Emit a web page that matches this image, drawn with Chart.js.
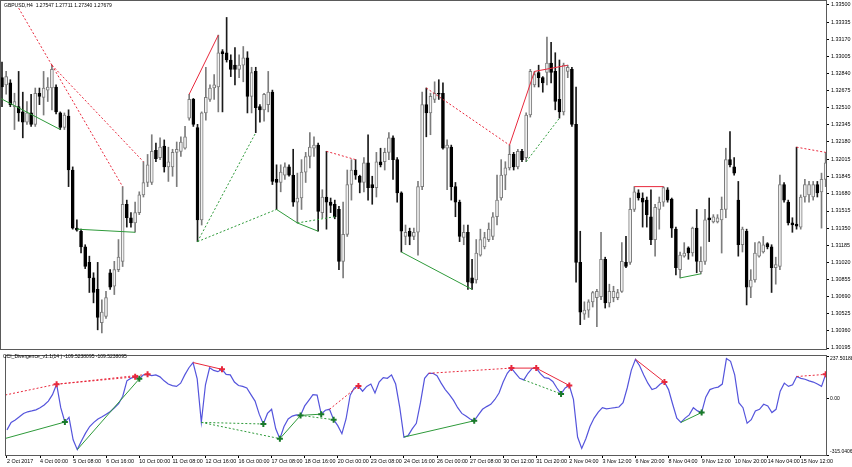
<!DOCTYPE html>
<html>
<head>
<meta charset="utf-8">
<script src="https://cdn.jsdelivr.net/npm/chart.js@4.4.1/dist/chart.umd.min.js"></script>
<style>
  body { margin: 0; background: #fff; }
  #wrap { position: relative; width: 852px; height: 467px; overflow: hidden; background: #fff; }
  canvas { position: absolute; left: 0; }
  #priceChart { top: 0; }
  #cciChart { top: 350px; }
  .caption { position: absolute; font-family: 'Liberation Sans', Arial, sans-serif; font-size: 5px; color: #000; white-space: pre; line-height: 1; }
</style>
</head>
<body>
<div id="wrap">
  <canvas id="priceChart" width="852" height="350"></canvas>
  <canvas id="cciChart" width="852" height="117"></canvas>
  <div class="caption" style="left:4px;top:3px">GBPUSD,H4  1.27547 1.27711 1.27340 1.27679</div>
  <div class="caption" style="left:3px;top:354px">CCI_Divergence_v1.1(14 ) -109.5238095 -109.5238095</div>
</div>
<script>
// time labels, one every 8 H4 bars
const xTickLabels = ['2 Oct 2017', '4 Oct 00:00', '5 Oct 08:00', '6 Oct 16:00', '10 Oct 00:00', '11 Oct 08:00',
  '12 Oct 16:00', '16 Oct 00:00', '17 Oct 08:00', '18 Oct 16:00', '20 Oct 00:00', '23 Oct 08:00', '24 Oct 16:00',
  '26 Oct 00:00', '27 Oct 08:00', '30 Oct 12:00', '31 Oct 20:00', '2 Nov 04:00', '3 Nov 12:00', '6 Nov 20:00',
  '8 Nov 04:00', '9 Nov 12:00', '10 Nov 20:00', '14 Nov 04:00', '15 Nov 12:00'];

const priceTickLabels = ['1.33500', '1.33335', '1.33170', '1.33005', '1.32840', '1.32675', '1.32510', '1.32345',
  '1.32180', '1.32015', '1.31845', '1.31680', '1.31515', '1.31350', '1.31185', '1.31020', '1.30855', '1.30690',
  '1.30525', '1.30360', '1.30195'];

const cciTickLabels = ['237.50188', '0.00', '-315.0406'];

const opens = [
  1.3280, 1.3273, 1.3275, 1.3252, 1.3252, 1.3247, 1.3237, 1.3246, 1.3235, 1.3265,
  1.3261, 1.3268, 1.3270, 1.3271, 1.3246, 1.3232, 1.3243, 1.3191, 1.3135, 1.3132,
  1.3117, 1.3102, 1.3087, 1.3076, 1.3044, 1.3050, 1.3092, 1.3079, 1.3095, 1.3103,
  1.3158, 1.3145, 1.3140, 1.3150, 1.3167, 1.3179, 1.3179, 1.3210, 1.3203, 1.3214,
  1.3194, 1.3194, 1.3208, 1.3209, 1.3212, 1.3241, 1.3259, 1.3232, 1.3143, 1.3246,
  1.3259, 1.3270, 1.3271, 1.3305, 1.3304, 1.3297, 1.3292, 1.3288, 1.3292, 1.3299,
  1.3262, 1.3286, 1.3252, 1.3249, 1.3254, 1.3266, 1.3182, 1.3179, 1.3186, 1.3194,
  1.3186, 1.3160, 1.3164, 1.3189, 1.3204, 1.3212, 1.3215, 1.3150, 1.3165, 1.3160,
  1.3158, 1.3153, 1.3103, 1.3129, 1.3177, 1.3191, 1.3185, 1.3179, 1.3198, 1.3177,
  1.3174, 1.3199, 1.3199, 1.3208, 1.3222, 1.3201, 1.3169, 1.3127, 1.3132, 1.3127,
  1.3131, 1.3175, 1.3254, 1.3246, 1.3259, 1.3265, 1.3265, 1.3212, 1.3213, 1.3175,
  1.3160, 1.3126, 1.3131, 1.3087, 1.3085, 1.3109, 1.3117, 1.3124, 1.3127, 1.3146,
  1.3164, 1.3186, 1.3193, 1.3206, 1.3194, 1.3209, 1.3203, 1.3244, 1.3273, 1.3285,
  1.3280, 1.3285, 1.3294, 1.3286, 1.3259, 1.3247, 1.3286, 1.3288, 1.3235, 1.3102,
  1.3052, 1.3056, 1.3064, 1.3068, 1.3069, 1.3105, 1.3063, 1.3068, 1.3068, 1.3074,
  1.3102, 1.3102, 1.3153, 1.3169, 1.3164, 1.3162, 1.3146, 1.3124, 1.3153, 1.3160,
  1.3172, 1.3163, 1.3134, 1.3095, 1.3108, 1.3116, 1.3111, 1.3135, 1.3093, 1.3103,
  1.3145, 1.3141, 1.3141, 1.3143, 1.3153, 1.3201, 1.3194, 1.3162, 1.3119, 1.3132,
  1.3078, 1.3085, 1.3108, 1.3112, 1.3120, 1.3117, 1.3097, 1.3098, 1.3177, 1.3160,
  1.3140, 1.3139, 1.3136, 1.3165, 1.3167, 1.3165, 1.3177, 1.3170, 1.3182];

const highs = [
  1.3295, 1.3286, 1.3278, 1.3265, 1.3286, 1.3266, 1.3257, 1.3264, 1.3270, 1.3270,
  1.3286, 1.3280, 1.3292, 1.3273, 1.3247, 1.3246, 1.3249, 1.3194, 1.3143, 1.3134,
  1.3119, 1.3108, 1.3092, 1.3102, 1.3066, 1.3074, 1.3095, 1.3103, 1.3124, 1.3175,
  1.3162, 1.3150, 1.3160, 1.3170, 1.3199, 1.3206, 1.3225, 1.3217, 1.3222, 1.3220,
  1.3213, 1.3211, 1.3218, 1.3223, 1.3233, 1.3264, 1.3260, 1.3235, 1.3247, 1.3290,
  1.3273, 1.3283, 1.3321, 1.3307, 1.3338, 1.3302, 1.3309, 1.3302, 1.3310, 1.3305,
  1.3290, 1.3290, 1.3254, 1.3265, 1.3286, 1.3268, 1.3196, 1.3196, 1.3198, 1.3196,
  1.3211, 1.3188, 1.3201, 1.3208, 1.3227, 1.3223, 1.3217, 1.3172, 1.3209, 1.3164,
  1.3162, 1.3156, 1.3160, 1.3191, 1.3201, 1.3201, 1.3186, 1.3203, 1.3225, 1.3185,
  1.3208, 1.3212, 1.3212, 1.3227, 1.3224, 1.3203, 1.3170, 1.3138, 1.3135, 1.3135,
  1.3180, 1.3266, 1.3270, 1.3265, 1.3276, 1.3278, 1.3275, 1.3220, 1.3215, 1.3179,
  1.3162, 1.3138, 1.3138, 1.3105, 1.3124, 1.3134, 1.3131, 1.3140, 1.3150, 1.3186,
  1.3201, 1.3199, 1.3215, 1.3208, 1.3211, 1.3211, 1.3246, 1.3288, 1.3286, 1.3292,
  1.3281, 1.3319, 1.3314, 1.3304, 1.3297, 1.3294, 1.3292, 1.3290, 1.3271, 1.3132,
  1.3064, 1.3066, 1.3074, 1.3076, 1.3131, 1.3107, 1.3081, 1.3079, 1.3076, 1.3121,
  1.3127, 1.3164, 1.3175, 1.3172, 1.3169, 1.3165, 1.3172, 1.3158, 1.3165, 1.3175,
  1.3174, 1.3164, 1.3136, 1.3112, 1.3121, 1.3117, 1.3136, 1.3153, 1.3117, 1.3153,
  1.3164, 1.3148, 1.3148, 1.3165, 1.3212, 1.3228, 1.3203, 1.3180, 1.3136, 1.3134,
  1.3095, 1.3121, 1.3122, 1.3127, 1.3121, 1.3119, 1.3107, 1.3186, 1.3179, 1.3162,
  1.3145, 1.3213, 1.3167, 1.3182, 1.3180, 1.3180, 1.3180, 1.3188, 1.3208];

const lows = [
  1.3252, 1.3264, 1.3252, 1.3230, 1.3238, 1.3222, 1.3235, 1.3233, 1.3233, 1.3254,
  1.3244, 1.3257, 1.3249, 1.3245, 1.3230, 1.3230, 1.3175, 1.3134, 1.3132, 1.3111,
  1.3096, 1.3073, 1.3063, 1.3037, 1.3034, 1.3048, 1.3076, 1.3071, 1.3093, 1.3098,
  1.3136, 1.3136, 1.3131, 1.3148, 1.3165, 1.3175, 1.3177, 1.3199, 1.3201, 1.3189,
  1.3180, 1.3185, 1.3175, 1.3204, 1.3211, 1.3239, 1.3233, 1.3122, 1.3138, 1.3239,
  1.3257, 1.3259, 1.3247, 1.3247, 1.3295, 1.3281, 1.3273, 1.3280, 1.3276, 1.3246,
  1.3246, 1.3227, 1.3237, 1.3238, 1.3247, 1.3177, 1.3153, 1.3170, 1.3182, 1.3185,
  1.3156, 1.3140, 1.3153, 1.3179, 1.3193, 1.3204, 1.3132, 1.3145, 1.3134, 1.3150,
  1.3144, 1.3095, 1.3087, 1.3127, 1.3162, 1.3182, 1.3169, 1.3170, 1.3162, 1.3158,
  1.3165, 1.3194, 1.3191, 1.3201, 1.3182, 1.3160, 1.3112, 1.3119, 1.3119, 1.3124,
  1.3109, 1.3172, 1.3223, 1.3225, 1.3256, 1.3259, 1.3211, 1.3172, 1.3162, 1.3146,
  1.3122, 1.3119, 1.3076, 1.3076, 1.3082, 1.3108, 1.3115, 1.3122, 1.3124, 1.3138,
  1.3162, 1.3172, 1.3191, 1.3191, 1.3192, 1.3199, 1.3199, 1.3242, 1.3271, 1.3271,
  1.3266, 1.3273, 1.3275, 1.3249, 1.3241, 1.3244, 1.3280, 1.3233, 1.3083, 1.3042,
  1.3047, 1.3049, 1.3059, 1.3040, 1.3066, 1.3058, 1.3059, 1.3064, 1.3066, 1.3073,
  1.3097, 1.3100, 1.3151, 1.3162, 1.3136, 1.3136, 1.3119, 1.3108, 1.3134, 1.3156,
  1.3160, 1.3126, 1.3090, 1.3087, 1.3107, 1.3105, 1.3108, 1.3092, 1.3091, 1.3100,
  1.3122, 1.3140, 1.3140, 1.3111, 1.3145, 1.3194, 1.3186, 1.3108, 1.3112, 1.3061,
  1.3068, 1.3083, 1.3107, 1.3111, 1.3115, 1.3073, 1.3081, 1.3095, 1.3160, 1.3138,
  1.3131, 1.3134, 1.3134, 1.3160, 1.3160, 1.3162, 1.3165, 1.3135, 1.3175];

const closes = [
  1.3271, 1.3281, 1.3254, 1.3257, 1.3246, 1.3237, 1.3246, 1.3235, 1.3265, 1.3262,
  1.3270, 1.3271, 1.3288, 1.3247, 1.3232, 1.3244, 1.3191, 1.3135, 1.3133, 1.3117,
  1.3098, 1.3087, 1.3073, 1.3049, 1.3054, 1.3068, 1.3078, 1.3095, 1.3107, 1.3158,
  1.3145, 1.3140, 1.3150, 1.3167, 1.3179, 1.3196, 1.3209, 1.3202, 1.3213, 1.3194,
  1.3199, 1.3208, 1.3211, 1.3218, 1.3223, 1.3259, 1.3235, 1.3143, 1.3246, 1.3261,
  1.3270, 1.3273, 1.3304, 1.3303, 1.3297, 1.3288, 1.3288, 1.3292, 1.3299, 1.3262,
  1.3285, 1.3251, 1.3249, 1.3264, 1.3266, 1.3180, 1.3179, 1.3189, 1.3194, 1.3186,
  1.3160, 1.3164, 1.3189, 1.3204, 1.3213, 1.3215, 1.3151, 1.3165, 1.3160, 1.3157,
  1.3146, 1.3103, 1.3129, 1.3177, 1.3191, 1.3186, 1.3179, 1.3198, 1.3174, 1.3174,
  1.3199, 1.3196, 1.3208, 1.3222, 1.3201, 1.3169, 1.3132, 1.3131, 1.3127, 1.3131,
  1.3175, 1.3254, 1.3246, 1.3262, 1.3265, 1.3264, 1.3212, 1.3215, 1.3175, 1.3160,
  1.3127, 1.3131, 1.3083, 1.3082, 1.3111, 1.3124, 1.3126, 1.3134, 1.3146, 1.3162,
  1.3186, 1.3193, 1.3206, 1.3194, 1.3209, 1.3201, 1.3244, 1.3286, 1.3283, 1.3280,
  1.3275, 1.3294, 1.3285, 1.3257, 1.3247, 1.3292, 1.3290, 1.3235, 1.3102, 1.3054,
  1.3056, 1.3064, 1.3073, 1.3074, 1.3105, 1.3063, 1.3074, 1.3074, 1.3073, 1.3103,
  1.3098, 1.3153, 1.3170, 1.3164, 1.3160, 1.3148, 1.3124, 1.3155, 1.3160, 1.3174,
  1.3162, 1.3135, 1.3097, 1.3109, 1.3111, 1.3111, 1.3135, 1.3103, 1.3103, 1.3143,
  1.3143, 1.3146, 1.3145, 1.3153, 1.3201, 1.3196, 1.3188, 1.3119, 1.3134, 1.3078,
  1.3085, 1.3111, 1.3121, 1.3119, 1.3117, 1.3097, 1.3100, 1.3177, 1.3162, 1.3140,
  1.3138, 1.3137, 1.3165, 1.3177, 1.3177, 1.3177, 1.3169, 1.3182, 1.3198];

const cci = [
  -175, -133, -120, -102, -83, -74, -69, -63, -51, -36,
  -14, 22, 80, -51, -131, -105, -230, -285, -237, -193,
  -156, -133, -114, -102, -87, -72, -51, -29, 13, 99,
  114, 121, 110, 132, 135, 128, 132, 121, 99, 81,
  72, 68, 86, 132, 172, 201, 110, -133, 77, 172,
  157, 150, 163, 135, 132, 92, 73, 68, 59, 22,
  -14, -87, -142, -83, -60, -169, -224, -156, -114, -98,
  -91, -94, -41, -10, 22, 19, -87, -65, -60, -118,
  -151, -196, -114, 19, 59, 70, 41, 68, 81, 31,
  92, 117, 113, 132, 81, -51, -215, -207, -169, -138,
  -23, 113, 141, 141, 128, 86, 50, 22, -10, -51,
  -83, -98, -114, -124, -91, -60, -45, -32, -5, 31,
  92, 141, 170, 141, 113, 104, 141, 168, 170, 139,
  117, 113, 95, 59, 26, 59, 73, -5, -215, -278,
  -224, -156, -109, -76, -51, -58, -54, -51, -47, -23,
  59, 159, 219, 183, 132, 86, 50, 59, 81, 92,
  50, -32, -109, -133, -109, -91, -51, -69, -78, 8,
  50, 59, 64, 81, 223, 208, 132, -23, -51, -138,
  -118, -69, -60, -32, -41, -78, -60, 41, 86, 68,
  77, 123, 113, 108, 99, 92, 81, 68, 135];

// divergence lines: [fromBar, fromValue, toBar, toValue]
const priceBearRegular = [[45, 1.3264, 52, 1.3321], [122, 1.3215, 128, 1.3286], [128, 1.3286, 136, 1.3292], [152, 1.3175, 159, 1.3175]];
const priceBearHidden = [[4, 1.3347, 12, 1.3292], [12, 1.3292, 29, 1.3175], [12, 1.3292, 34, 1.3199], [78, 1.3209, 85, 1.3201], [102, 1.3270, 122, 1.3215], [191, 1.3213, 198, 1.3208]];
const priceBullRegular = [[-8, 1.3276, 14, 1.3230], [18, 1.3134, 32, 1.3131], [66, 1.3153, 71, 1.3140], [71, 1.3140, 76, 1.3132], [96, 1.3112, 113, 1.3076], [163, 1.3087, 168, 1.3091]];
const priceBullHidden = [[47, 1.3122, 61, 1.3227], [47, 1.3122, 66, 1.3153], [71, 1.3140, 80, 1.3146], [126, 1.3199, 134, 1.3241]];

const cciBearRegular = [[45, 201, 52, 163], [122, 170, 128, 170], [128, 170, 136, 73], [152, 219, 159, 92]];
const cciBearHidden = [[-8, -17, 12, 80], [12, 80, 31, 121], [12, 80, 34, 135], [78, -60, 85, 70], [102, 141, 122, 170], [191, 123, 198, 135]];
const cciBullRegular = [[-8, -271, 14, -131], [17, -285, 32, 110], [66, -224, 71, -94], [71, -94, 76, -87], [96, -215, 113, -124], [163, -133, 168, -78]];
const cciBullHidden = [[47, -133, 62, -142], [47, -133, 66, -224], [71, -94, 79, -118], [125, 104, 134, 26]];

const cciBearMarks = [12, 31, 34, 52, 85, 122, 128, 136, 159, 198];
const cciBullMarks = [14, 32, 62, 66, 71, 76, 79, 113, 134, 168];

const BARS_PER_LABEL = 8;
const X_MIN = -0.24, X_MAX = 198.08;
const PRICE_MIN = 1.301854, PRICE_MAX = 1.335385;
const CCI_MIN = -315.0406, CCI_MAX = 237.50188;

const RED = '#e8283c';
const GREEN = '#2e9a3a';
const axisFont = { family: "'Liberation Sans', Arial, sans-serif", size: 5.4 };

const frame = {
    id: 'frame',
    afterDraw(chart) {
        const { ctx, chartArea: a } = chart;
        ctx.save();
        ctx.strokeStyle = '#5a5a5a';
        ctx.lineWidth = 1;
        ctx.strokeRect(a.left - 0.5, a.top - 0.5, a.right - a.left + 1, a.bottom - a.top + 1);
        ctx.restore();
    }
};

function segments(list, color, dashed) {
    return list.map(([b1, v1, b2, v2]) => ({
        type: 'line',
        data: [{ x: b1, y: v1 }, { x: b2, y: v2 }],
        borderColor: color,
        borderWidth: 1,
        borderDash: dashed ? [2, 2] : [],
        pointRadius: 0,
        order: 1
    }));
}

const barIdx = opens.map((_, i) => i);
const rising = barIdx.map(i => closes[i] >= opens[i]);

new Chart(document.getElementById('priceChart'), {
    type: 'bar',
    data: {
        datasets: [
            ...segments(priceBearRegular, RED, false),
            ...segments(priceBearHidden, RED, true),
            ...segments(priceBullRegular, GREEN, false),
            ...segments(priceBullHidden, GREEN, true),
            {
                type: 'bar',
                data: barIdx.map(i => ({ x: i, y: [opens[i], closes[i]] })),
                backgroundColor: rising.map(r => r ? '#f2f2f2' : '#000000'),
                borderColor: rising.map(r => r ? '#7c7c7c' : '#000000'),
                borderWidth: 1,
                borderSkipped: false,
                barThickness: 3,
                minBarLength: 1,
                grouped: false,
                order: 2
            },
            {
                type: 'bar',
                data: barIdx.map(i => ({ x: i, y: [lows[i], highs[i]] })),
                backgroundColor: rising.map(r => r ? '#7c7c7c' : '#1a1a1a'),
                borderWidth: 0,
                barThickness: 1,
                grouped: false,
                order: 3
            }
        ]
    },
    options: {
        responsive: false,
        animation: false,
        events: [],
        layout: { padding: { left: 1, top: 1, right: 0, bottom: 1 } },
        plugins: { legend: { display: false }, tooltip: { enabled: false } },
        scales: {
            x: { type: 'linear', display: false, min: X_MIN, max: X_MAX, offset: false },
            y: {
                position: 'right',
                min: PRICE_MIN,
                max: PRICE_MAX,
                afterBuildTicks: s => { s.ticks = priceTickLabels.map(t => ({ value: parseFloat(t) })); },
                afterFit: s => { s.width = 26; s.paddingTop = 0; s.paddingBottom = 0; },
                ticks: { callback: (v, i) => priceTickLabels[i], font: axisFont, color: '#000', padding: 2, autoSkip: false },
                grid: { drawOnChartArea: false, drawTicks: true, tickLength: 3, color: '#000' },
                border: { display: false }
            }
        }
    },
    plugins: [frame]
});

const lastTick = cciTickLabels.length - 1;

new Chart(document.getElementById('cciChart'), {
    type: 'line',
    data: {
        datasets: [
            {
                data: cciBearMarks.map(i => ({ x: i, y: cci[i] })),
                showLine: false,
                pointStyle: 'cross',
                pointRadius: 3,
                pointBorderWidth: 2,
                pointBorderColor: RED,
                order: 0
            },
            {
                data: cciBullMarks.map(i => ({ x: i, y: cci[i] })),
                showLine: false,
                pointStyle: 'cross',
                pointRadius: 3,
                pointBorderWidth: 2,
                pointBorderColor: '#1a7a2a',
                order: 0
            },
            ...segments(cciBearRegular, RED, false),
            ...segments(cciBearHidden, RED, true),
            ...segments(cciBullRegular, GREEN, false),
            ...segments(cciBullHidden, GREEN, true),
            {
                data: cci.map((v, i) => ({ x: i, y: v })),
                borderColor: '#5454dc',
                borderWidth: 1.2,
                pointRadius: 0,
                tension: 0,
                order: 2
            }
        ]
    },
    options: {
        responsive: false,
        animation: false,
        events: [],
        layout: { padding: { left: 1, top: 2, right: 0, bottom: 0 } },
        plugins: { legend: { display: false }, tooltip: { enabled: false } },
        scales: {
            x: {
                type: 'linear',
                min: X_MIN,
                max: X_MAX,
                offset: false,
                afterBuildTicks: s => { s.ticks = xTickLabels.map((_, k) => ({ value: k * BARS_PER_LABEL })); },
                afterFit: s => { s.height = 12; s.paddingLeft = 0; s.paddingRight = 0; },
                ticks: { callback: (v, i) => xTickLabels[i], font: axisFont, color: '#000', align: 'start', autoSkip: false, maxRotation: 0, padding: 0 },
                grid: { drawOnChartArea: false, drawTicks: true, tickLength: 3, color: '#000' },
                border: { display: false }
            },
            y: {
                position: 'right',
                min: CCI_MIN,
                max: CCI_MAX,
                afterBuildTicks: s => { s.ticks = cciTickLabels.map(t => ({ value: parseFloat(t) })); },
                afterFit: s => { s.width = 26; s.paddingTop = 0; s.paddingBottom = 0; },
                ticks: {
                    // keep the top and bottom labels inside the panel, as the terminal does
                    callback: (v, i) => i === 0 ? ['', cciTickLabels[i]] : (i === lastTick ? [cciTickLabels[i], ''] : cciTickLabels[i]),
                    font: { family: axisFont.family, size: 5 }, color: '#000', padding: 1, autoSkip: false
                },
                grid: { drawOnChartArea: false, drawTicks: true, tickLength: 3, color: '#000' },
                border: { display: false }
            }
        }
    },
    plugins: [frame]
});
</script>
</body>
</html>
